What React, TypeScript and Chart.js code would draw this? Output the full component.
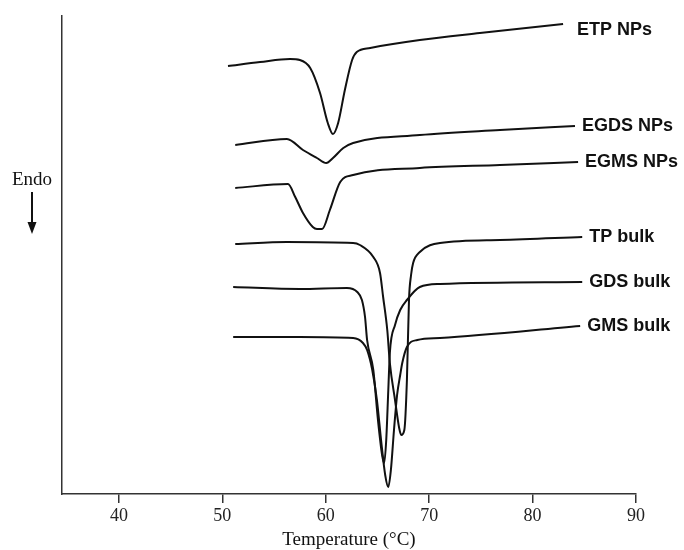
import React, { useEffect, useRef } from "react";
import { Chart, registerables } from "chart.js";

Chart.register(...registerables);

// Temperature ticks on the x axis (°C)
const X_TICKS = [40, 50, 60, 70, 80, 90];

const SERIES_NAMES = ["ETP NPs", "EGDS NPs", "EGMS NPs", "TP bulk", "GDS bulk", "GMS bulk"];

// Heat flow traces (arbitrary units, offset stacked)
const ETP_T = [50.55, 53.65, 56.55, 57.5, 58.5, 59.45, 60.2, 60.7, 61.2, 61.85, 62.55, 63.0, 64.3, 69.1, 74.9, 82.95];
const ETP_V = [428, 432, 435, 434, 426, 401, 371, 360, 371, 404, 434, 442, 446, 454, 461, 470];

const EGDS_T = [51.25, 56.25, 57.8, 59.15, 60.05, 60.7, 61.7, 62.65, 69.1, 76.85, 84.1];
const EGDS_V = [349, 355, 344, 336, 331, 336, 346, 351, 359, 364, 368];

const EGMS_T = [51.25, 56.35, 57.05, 57.8, 58.75, 59.15, 59.65, 60.4, 61.4, 62.65, 69.1, 76.85, 84.4];
const EGMS_V = [306, 310, 297, 281, 267, 265, 265, 284, 312, 319, 326, 329, 332];

const TP_T = [51.25, 56.25, 62.65, 63.3, 64.6, 65.25, 65.55, 65.95, 66.2, 66.7, 67.1, 67.3, 67.6, 67.85, 68.05, 68.25, 68.45, 69.1, 71.05, 76.85, 84.8];
const TP_V = [250, 252, 251, 249, 237, 221, 197, 164, 131, 94, 66, 59, 64, 114, 194, 219, 231, 242, 251, 254, 257];

const GDS_T = [51.05, 57.5, 62.05, 63.05, 63.5, 63.8, 64.0, 64.6, 65.05, 65.45, 65.65, 65.85, 66.05, 66.2, 66.7, 67.2, 67.85, 69.1, 71.05, 84.8];
const GDS_V = [207, 205, 206, 202, 194, 177, 154, 124, 74, 39, 31, 54, 104, 141, 169, 184, 194, 207, 210, 212];

const GMS_T = [51.05, 57.5, 62.65, 63.6, 64.0, 64.5, 64.95, 65.35, 65.75, 66.05, 66.3, 66.6, 66.9, 67.2, 67.4, 67.85, 68.85, 71.05, 84.6];
const GMS_V = [157, 157, 156, 151, 144, 124, 94, 54, 19, 7, 24, 64, 99, 119, 131, 147, 154, 156, 168];

const SERIES_T = [ETP_T, EGDS_T, EGMS_T, TP_T, GDS_T, GMS_T];
const SERIES_V = [ETP_V, EGDS_V, EGMS_V, TP_V, GDS_V, GMS_V];

const labelPlugin = {
  id: "seriesLabels",
  afterDraw(chart: any) {
    const ctx = chart.ctx;
    ctx.save();
    ctx.fillStyle = "#111";
    ctx.font = "bold 18px 'Liberation Sans', Arial, sans-serif";
    ctx.textAlign = "left";
    ctx.textBaseline = "middle";
    chart.data.datasets.forEach((ds: any, i: number) => {
      const meta = chart.getDatasetMeta(i);
      const last = meta.data[meta.data.length - 1];
      if (!last) return;
      const dx = i === 0 ? 14 : 7;
      const dy = i === 0 ? 6 : 0;
      ctx.fillText(ds.label, last.x + dx, last.y + dy);
    });
    // "Endo" indicator with downward arrow
    ctx.font = "19px 'Liberation Serif', 'Times New Roman', serif";
    ctx.textAlign = "center";
    ctx.fillText("Endo", 32, 180);
    ctx.strokeStyle = "#111";
    ctx.lineWidth = 2;
    ctx.beginPath();
    ctx.moveTo(32, 192);
    ctx.lineTo(32, 226);
    ctx.stroke();
    ctx.beginPath();
    ctx.moveTo(27.5, 222);
    ctx.lineTo(36.5, 222);
    ctx.lineTo(32, 234);
    ctx.closePath();
    ctx.fill();
    ctx.restore();
  },
};

export default function App() {
  const canvasRef = useRef<HTMLCanvasElement | null>(null);

  useEffect(() => {
    document.body.style.margin = "0";
    const canvas = canvasRef.current;
    if (!canvas) return;
    const datasets = SERIES_NAMES.map((name, i) => ({
      label: name,
      data: SERIES_T[i].map((t, j) => ({ x: t, y: SERIES_V[i][j] })),
      borderColor: "#111",
      borderWidth: 2,
      pointRadius: 0,
      fill: false,
      cubicInterpolationMode: "monotone" as const,
    }));
    const chart = new Chart(canvas, {
      type: "line",
      data: { datasets },
      options: {
        animation: false,
        responsive: false,
        devicePixelRatio: 1,
        layout: { padding: { left: 62, top: 16, right: 48, bottom: 0 } },
        plugins: {
          legend: { display: false },
          tooltip: { enabled: false },
        },
        scales: {
          x: {
            type: "linear",
            position: "bottom",
            min: 34.5,
            max: 90,
            afterBuildTicks: (s: any) => {
              s.ticks = X_TICKS.map((v) => ({ value: v }));
            },
            afterFit: (s: any) => {
              s.height = 56;
            },
            ticks: {
              autoSkip: false,
              maxRotation: 0,
              padding: 4,
              color: "#222",
              font: { family: "'Liberation Serif', 'Times New Roman', serif", size: 18, lineHeight: 1 },
            },
            grid: {
              display: true,
              drawOnChartArea: false,
              drawTicks: true,
              tickLength: 9,
              color: "#333",
              lineWidth: 1.5,
            },
            border: { display: true, color: "#333", width: 1.5 },
            title: {
              display: true,
              text: "Temperature (°C)",
              color: "#111",
              padding: 0,
              font: { family: "'Liberation Serif', 'Times New Roman', serif", size: 19, lineHeight: 1 },
            },
          },
          y: {
            type: "linear",
            min: 0,
            max: 478,
            afterFit: (s: any) => {
              s.width = 0;
            },
            ticks: { display: false },
            grid: { display: false },
            border: { display: true, color: "#333", width: 1.5 },
          },
        },
      },
      plugins: [labelPlugin],
    });
    return () => chart.destroy();
  }, []);

  return (
    <div style={{ width: 684, height: 550, background: "#fff" }}>
      <canvas ref={canvasRef} width={684} height={550} />
    </div>
  );
}
